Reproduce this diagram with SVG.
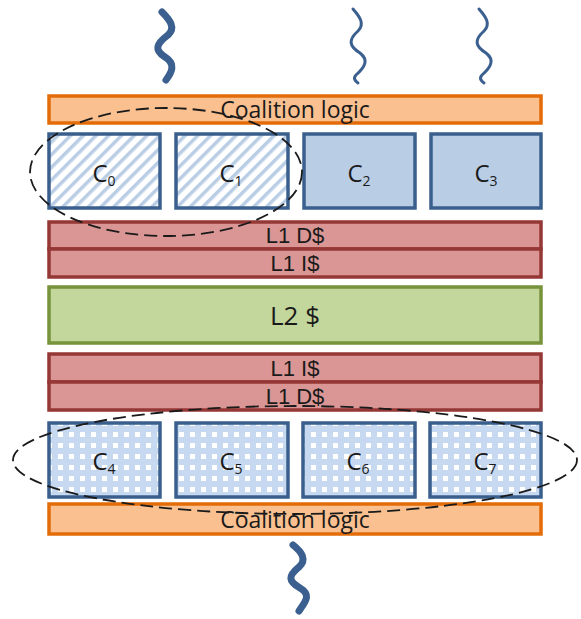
<svg xmlns="http://www.w3.org/2000/svg" width="581" height="619" viewBox="0 0 581 619">
<defs>
<pattern id="hatch" width="9" height="9" patternUnits="userSpaceOnUse" patternTransform="rotate(45)">
<rect width="9" height="9" fill="#ffffff"/>
<rect x="0" y="0" width="3.5" height="9" fill="#B9CDE5"/>
</pattern>
<pattern id="check" width="11" height="11" patternUnits="userSpaceOnUse">
<rect width="11" height="11" fill="#C6D9F1"/>
<rect x="3" y="3" width="5" height="5" fill="#ffffff"/>
</pattern>
</defs>
<style>
.coal{fill:#FAC090;stroke:#E36C09;stroke-width:3.5}
.core{stroke:#3A5F8D;stroke-width:3.5}
.l1{fill:#D99694;stroke:#953735;stroke-width:3.5}
.l2{fill:#C3D69B;stroke:#77933C;stroke-width:3.5}
.t{font-family:"Open Sans","Liberation Sans",sans-serif;fill:#1a1a1a;text-anchor:middle}
.lbl{font-size:23px}
.l1t{font-family:"Liberation Sans",Arial,sans-serif;font-size:22px}
.cl{font-size:24px}
.sub{font-size:14px}
.ell{fill:none;stroke:#1a1a1a;stroke-width:1.8;stroke-dasharray:13 6}
.wave{fill:none;stroke:#3B6090;stroke-linecap:round}
</style>
<g id="waves">
<path class="wave" stroke-width="7" d="M162,12 C170,20 176,28 168,35 C156,44 154,50 165,57 C176,64 172,72 166,80"/>
<path class="wave" stroke-width="3" d="M353,9 C360,17 365,24 358,31 C348,40 349,46 360,53 C369,60 365,67 356,75 C353,78 355,81 358,83"/>
<path class="wave" stroke-width="3" d="M479,9 C486,17 491,24 484,31 C474,40 475,46 486,53 C495,60 491,67 482,75 C479,78 481,81 484,83"/>
<path class="wave" stroke-width="7" d="M293,545 C302,552 307,560 299,567 C288,576 288,581 300,588 C312,595 305,602 299,611"/>
</g>
<g id="coalition-top">
<rect class="coal" x="49" y="96" width="492" height="27"/>
<text class="t lbl" x="295" y="118">Coalition logic</text>
</g>
<g id="c0"><rect class="core" fill="url(#hatch)" x="49" y="134" width="111" height="74"/><text class="t cl" x="104" y="182">C<tspan class="sub" dy="4">0</tspan></text></g>
<g id="c1"><rect class="core" fill="url(#hatch)" x="176" y="134" width="112" height="74"/><text class="t cl" x="231" y="182">C<tspan class="sub" dy="4">1</tspan></text></g>
<g id="c2"><rect class="core" fill="#B9CDE5" x="304" y="134" width="111" height="74"/><text class="t cl" x="359" y="182">C<tspan class="sub" dy="4">2</tspan></text></g>
<g id="c3"><rect class="core" fill="#B9CDE5" x="431" y="134" width="110" height="74"/><text class="t cl" x="486" y="182">C<tspan class="sub" dy="4">3</tspan></text></g>
<g id="l1d-top"><rect class="l1" x="49" y="222" width="492" height="27"/><text class="t l1t" x="295" y="243">L1 D$</text></g>
<g id="l1i-top"><rect class="l1" x="49" y="249" width="492" height="28"/><text class="t l1t" x="295" y="271">L1 I$</text></g>
<g id="l2"><rect class="l2" x="49" y="287" width="492" height="56"/><text class="t" font-size="26" x="295" y="325">L2 $</text></g>
<g id="l1i-bot"><rect class="l1" x="49" y="354" width="492" height="28"/><text class="t l1t" x="295" y="376">L1 I$</text></g>
<g id="l1d-bot"><rect class="l1" x="49" y="382" width="492" height="28"/><text class="t l1t" x="295" y="404">L1 D$</text></g>
<g id="c4"><rect class="core" fill="url(#check)" x="49" y="423" width="111" height="74"/><text class="t cl" x="104" y="470">C<tspan class="sub" dy="4">4</tspan></text></g>
<g id="c5"><rect class="core" fill="url(#check)" x="176" y="423" width="112" height="74"/><text class="t cl" x="231" y="470">C<tspan class="sub" dy="4">5</tspan></text></g>
<g id="c6"><rect class="core" fill="url(#check)" x="303" y="423" width="112" height="74"/><text class="t cl" x="358" y="470">C<tspan class="sub" dy="4">6</tspan></text></g>
<g id="c7"><rect class="core" fill="url(#check)" x="430" y="423" width="111" height="74"/><text class="t cl" x="485" y="470">C<tspan class="sub" dy="4">7</tspan></text></g>
<g id="coalition-bot">
<rect class="coal" x="49" y="504" width="492" height="30"/>
<text class="t lbl" x="295" y="528">Coalition logic</text>
</g>
<g id="groups">
<ellipse class="ell" cx="166" cy="172" rx="136" ry="64"/>
<ellipse class="ell" cx="295" cy="460" rx="282" ry="54"/>
</g>
</svg>
